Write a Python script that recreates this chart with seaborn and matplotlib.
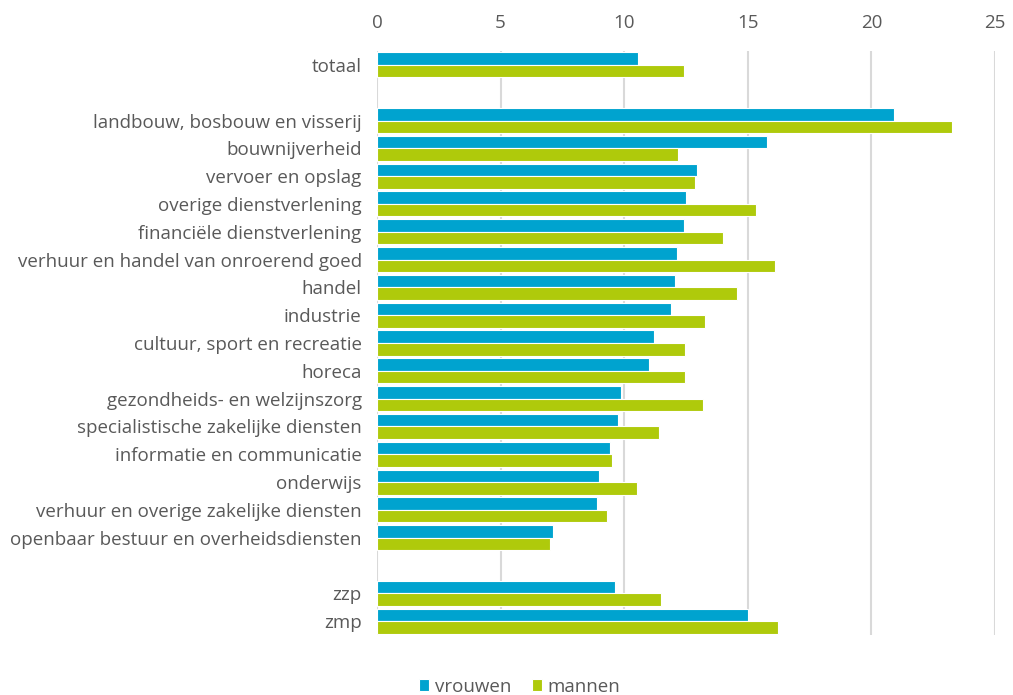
import matplotlib
matplotlib.use("Agg")
import matplotlib.pyplot as plt
import pandas as pd
import seaborn as sns

# ── data (percentages) ────────────────────────────────────────────────────────
categories = [
    "totaal",
    "landbouw, bosbouw en visserij",
    "bouwnijverheid",
    "vervoer en opslag",
    "overige dienstverlening",
    "financiële dienstverlening",
    "verhuur en handel van onroerend goed",
    "handel",
    "industrie",
    "cultuur, sport en recreatie",
    "horeca",
    "gezondheids- en welzijnszorg",
    "specialistische zakelijke diensten",
    "informatie en communicatie",
    "onderwijs",
    "verhuur en overige zakelijke diensten",
    "openbaar bestuur en overheidsdiensten",
    "zzp",
    "zmp",
]
vrouwen = [10.55, 20.9, 15.78, 12.94, 12.48, 12.43, 12.15, 12.06, 11.91,
           11.22, 11.0, 9.86, 9.74, 9.44, 8.97, 8.9, 7.13, 9.64, 15.01]
mannen = [12.43, 23.27, 12.16, 12.85, 15.33, 14.01, 16.12, 14.57, 13.27,
          12.45, 12.47, 13.17, 11.42, 9.49, 10.5, 9.3, 7.0, 11.49, 16.22]
series = ["vrouwen", "mannen"]
xticks = [0, 5, 10, 15, 20, 25]

# row order with two empty spacer rows
order = [categories[0], " "] + categories[1:17] + ["  "] + categories[17:]

df = pd.DataFrame({
    "categorie": categories * 2,
    "waarde": vrouwen + mannen,
    "geslacht": ["vrouwen"] * len(categories) + ["mannen"] * len(categories),
})

TEXT = "#595959"
palette = {"vrouwen": "#00A3CF", "mannen": "#AFCA0B"}

sns.set_style("white")
plt.rcParams["font.family"] = ["Open Sans", "DejaVu Sans"]

fig = plt.figure(figsize=(10.13, 6.95), dpi=100)
ax = fig.add_axes([377 / 1013, 1 - 635 / 695, (995 - 377) / 1013, (635 - 51) / 695])

sns.barplot(
    data=df, y="categorie", x="waarde", hue="geslacht",
    order=order, hue_order=series, palette=palette, saturation=1,
    orient="h", width=0.9, edgecolor="white", linewidth=0.8,
    legend=True, ax=ax, zorder=3,
)

ax.set_xlim(0, 25)
ax.set_ylim(len(order) - 0.5, -0.5)
ax.set_xticks(xticks)
ax.xaxis.tick_top()
ax.grid(axis="x", color="#D9D9D9", linewidth=1.5, zorder=0)
ax.grid(axis="y", visible=False)
sns.despine(ax=ax, left=True, bottom=True, top=True, right=True)
ax.tick_params(axis="x", length=0, pad=14, labelsize=13.5, labelcolor=TEXT)
ax.tick_params(axis="y", length=0, pad=11, labelsize=13.5, labelcolor=TEXT)
ax.set_xlabel("")
ax.set_ylabel("")

handles, labels = ax.get_legend_handles_labels()
ax.get_legend().remove()
fig.legend(
    handles, labels, loc="lower center", bbox_to_anchor=(0.513, -0.025),
    ncol=2, frameon=False, fontsize=13.5, labelcolor=TEXT,
    handlelength=0.55, handleheight=0.55, handletextpad=0.3, columnspacing=1.1,
)

fig.savefig("out.png", dpi=100)
